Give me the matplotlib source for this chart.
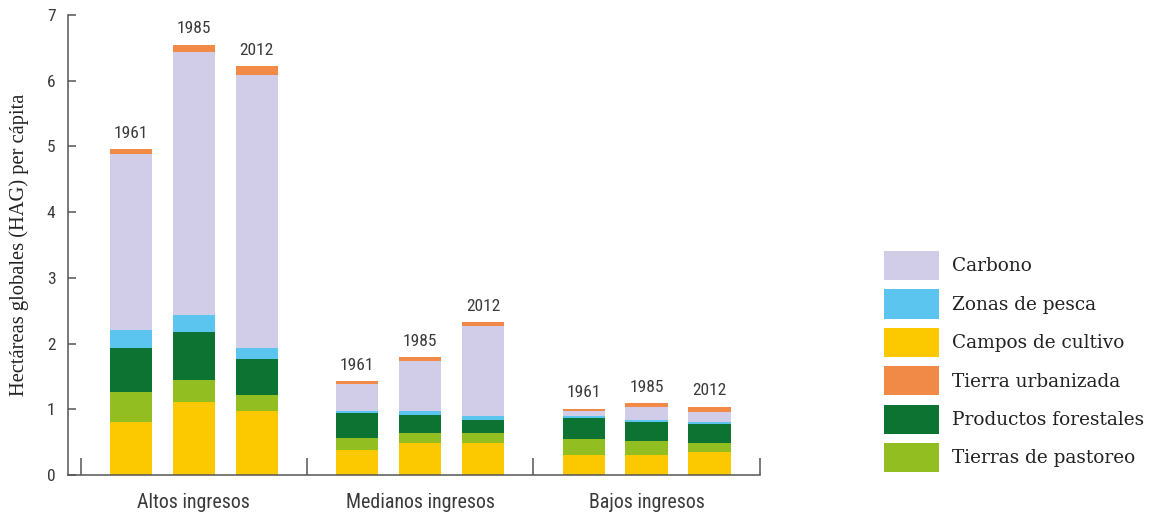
import numpy as np
import matplotlib
matplotlib.use('Agg')
import matplotlib.pyplot as plt
from matplotlib import font_manager as fm
from matplotlib.patches import Patch


def has_font(name):
    try:
        fm.findfont(fm.FontProperties(family=name), fallback_to_default=False)
        return True
    except ValueError:
        return False


# ─────────────────────────────────────────────
# Data
# ─────────────────────────────────────────────

groups = ['Altos ingresos', 'Medianos ingresos', 'Bajos ingresos']
years  = ['1961', '1985', '2012']

# segments per bar: Altos 61/85/12, Medianos 61/85/12, Bajos 61/85/12
cultivo    = [0.81, 1.11, 0.97, 0.38, 0.48, 0.48, 0.30, 0.30, 0.35]
pastoreo   = [0.46, 0.34, 0.24, 0.19, 0.16, 0.16, 0.24, 0.22, 0.13]
forestales = [0.66, 0.72, 0.55, 0.37, 0.27, 0.20, 0.32, 0.28, 0.30]
pesca      = [0.27, 0.27, 0.17, 0.03, 0.06, 0.06, 0.04, 0.04, 0.03]
carbono    = [2.69, 4.00, 4.15, 0.41, 0.77, 1.37, 0.07, 0.20, 0.15]
urbanizada = [0.07, 0.11, 0.14, 0.05, 0.05, 0.06, 0.04, 0.05, 0.08]

# stack order, bottom → top
layers = [
    ('Campos de cultivo',    cultivo,    '#fcc800'),
    ('Tierras de pastoreo',  pastoreo,   '#93be22'),
    ('Productos forestales', forestales, '#0d7332'),
    ('Zonas de pesca',       pesca,      '#5bc5f0'),
    ('Carbono',              carbono,    '#d1cde9'),
    ('Tierra urbanizada',    urbanizada, '#f08a46'),
]
legend_order = ['Carbono', 'Zonas de pesca', 'Campos de cultivo',
                'Tierra urbanizada', 'Productos forestales', 'Tierras de pastoreo']

# ─────────────────────────────────────────────
# Style
# ─────────────────────────────────────────────

NARROW, NSIZE, GSIZE = 'Roboto', 11.5, 12.5
for fam, size, gsize in [('Liberation Sans Narrow', 12.5, 14.3), ('Roboto Condensed', 12.5, 14.3),
                         ('DejaVu Sans Condensed', 11.5, 13)]:
    if has_font(fam):
        NARROW, NSIZE, GSIZE = fam, size, gsize
        break
if not has_font(NARROW):
    NARROW, NSIZE, GSIZE = 'DejaVu Sans', 10.5, 11.5

SERIF  = 'DejaVu Serif'
AXCOL  = '#555555'
TXTCOL = '#3a3a3a'

GROUP_STEP = 3.6
BAR_W      = 0.67

# ─────────────────────────────────────────────
# Plot
# ─────────────────────────────────────────────

fig = plt.figure(figsize=(11.49, 5.16), dpi=100)
ax  = fig.add_axes([0.0592, 0.0795, 0.6023, 0.8915])

x = np.array([g * GROUP_STEP + i for g in range(len(groups)) for i in range(len(years))])

bottom = np.zeros(len(x))
for name, vals, col in layers:
    vals = np.array(vals)
    ax.bar(x, vals, BAR_W, bottom=bottom, color=col, label=name, linewidth=0)
    bottom += vals

for xi, top, yr in zip(x, bottom, years * len(groups)):
    ax.annotate(yr, (xi, top), xytext=(0, 6), textcoords='offset points',
                ha='center', va='bottom', fontsize=NSIZE, family=NARROW, color=TXTCOL)

ax.set_xlim(-1.0, 10.005)
ax.set_ylim(0, 7)

# y axis
ax.set_yticks(range(8))
ax.tick_params(axis='y', direction='in', length=6, width=1.1, color=AXCOL,
               labelsize=NSIZE, labelcolor=TXTCOL, pad=9)
for lab in ax.get_yticklabels():
    lab.set_family(NARROW)

# x axis: separators as major ticks, group names as minor ticks
centers = np.array([g * GROUP_STEP + 1 for g in range(len(groups))])
seps = [centers[0] - GROUP_STEP / 2] + list(centers + GROUP_STEP / 2)
ax.set_xticks(seps)
ax.set_xticklabels([])
ax.set_xticks(centers, minor=True)
ax.set_xticklabels(groups, minor=True)
ax.tick_params(axis='x', which='major', direction='in', length=12, width=1.1, color=AXCOL)
ax.tick_params(axis='x', which='minor', length=0, labelsize=GSIZE, labelcolor=TXTCOL, pad=13)
for lab in ax.get_xticklabels(minor=True):
    lab.set_family(NARROW)

for side in ['top', 'right']:
    ax.spines[side].set_visible(False)
for side in ['left', 'bottom']:
    ax.spines[side].set_color(AXCOL)
    ax.spines[side].set_linewidth(1.1)

ax.set_ylabel('Hectáreas globales (HAG) per cápita', family='Liberation Serif',
              fontsize=14.8, color='#222222', labelpad=13)

# legend
colors = {name: col for name, _, col in layers}
handles = [Patch(facecolor=colors[n], edgecolor='none', label=n) for n in legend_order]
fig.legend(handles=handles, loc='upper left', bbox_to_anchor=(884 / 1149, 1 - 251 / 516),
           frameon=False, borderpad=0, borderaxespad=0,
           prop={'family': SERIF, 'size': 13.3},
           handlelength=3.0, handleheight=2.05, labelspacing=0.5, handletextpad=0.7)
for t in fig.legends[0].get_texts():
    t.set_color('#222222')

fig.savefig('out.png', dpi=100)
